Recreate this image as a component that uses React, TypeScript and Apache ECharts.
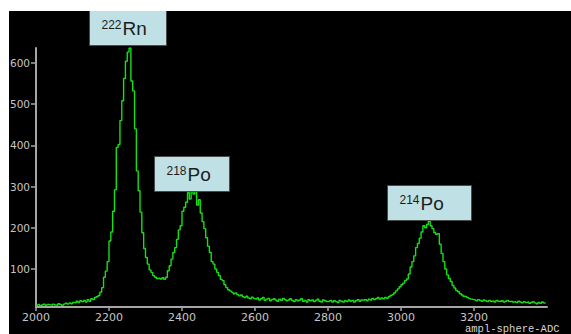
import React, { useEffect, useRef } from "react";
import * as echarts from "echarts";

// Histogram: bins of 5 ADC units starting at 2000
const BIN_START = 2000;
const BIN_WIDTH = 5;

const counts2000 = [12, 14, 11, 13, 15, 12, 14, 13, 12, 15, 13, 12, 16, 14, 12, 15, 17, 15, 18, 16];
const counts2100 = [19, 18, 22, 19, 23, 21, 24, 20, 26, 22, 28, 26, 31, 33, 36, 44, 55, 80, 95, 118];
const counts2200 = [168, 190, 240, 292, 395, 402, 460, 508, 562, 604, 626, 636, 556, 532, 440, 338, 290, 238, 188, 150];
const counts2300 = [128, 112, 98, 92, 84, 80, 77, 78, 76, 79, 75, 80, 96, 108, 124, 140, 152, 172, 195, 205];
const counts2400 = [240, 250, 262, 285, 270, 290, 282, 295, 255, 268, 236, 215, 198, 176, 155, 140, 118, 112, 100, 92];
const counts2500 = [84, 75, 72, 62, 55, 50, 47, 44, 40, 42, 38, 35, 37, 33, 31, 34, 30, 28, 32, 29];
const counts2600 = [27, 30, 25, 28, 31, 24, 27, 29, 23, 26, 28, 25, 22, 27, 24, 29, 26, 23, 25, 28];
const counts2700 = [24, 21, 26, 23, 25, 28, 22, 24, 20, 26, 23, 25, 21, 24, 27, 22, 20, 25, 23, 21];
const counts2800 = [22, 24, 20, 23, 21, 19, 24, 22, 20, 23, 21, 25, 22, 24, 20, 23, 26, 22, 25, 24];
const counts2900 = [26, 23, 27, 25, 29, 26, 28, 31, 27, 30, 28, 31, 29, 33, 36, 38, 42, 47, 52, 57];
const counts3000 = [62, 66, 72, 76, 88, 105, 118, 132, 152, 162, 175, 190, 205, 200, 208, 216, 205, 198, 188, 184];
const counts3100 = [186, 160, 138, 118, 100, 86, 77, 70, 60, 54, 48, 45, 40, 37, 34, 33, 31, 29, 27, 26];
const counts3200 = [25, 23, 26, 24, 22, 25, 23, 21, 24, 22, 23, 20, 24, 22, 21, 23, 20, 22, 24, 21];
const counts3300 = [22, 20, 21, 19, 22, 20, 18, 21, 19, 20, 17, 19, 21, 18, 16, 19, 17, 20, 18, 16];

const xTicks = [2000, 2200, 2400, 2600, 2800, 3000, 3200];
const yTicks = [100, 200, 300, 400, 500, 600];

// Peak annotations (anchored in data space: box left edge ADC, box bottom count)
const isotopes = ["222", "218", "214"];
const elements = ["Rn", "Po", "Po"];
const labelLeftADC = [2145, 2323, 2962];
const labelBottomCount = [643, 289, 218];
const boxWidths = [77, 75, 84];

const axisTitle = "ampl-sphere-ADC";

export default function App() {
  const ref = useRef<HTMLDivElement>(null);

  useEffect(() => {
    const el = ref.current;
    if (!el) return;
    const chart = echarts.init(el, null, { renderer: "svg" });
    const counts = [
      ...counts2000, ...counts2100, ...counts2200, ...counts2300, ...counts2400,
      ...counts2500, ...counts2600, ...counts2700, ...counts2800, ...counts2900,
      ...counts3000, ...counts3100, ...counts3200, ...counts3300,
    ];
    const data = counts.map((c, i) => [BIN_START + i * BIN_WIDTH, c]);
    const axisColor = "#a6a6a6";
    const labelColor = "#c6c6c6";

    chart.setOption({
      animation: false,
      backgroundColor: "#000000",
      grid: {
        left: 27,
        right: 24,
        top: 37,
        bottom: 27,
        containLabel: false,
        outerBoundsMode: "none",
      },
      xAxis: {
        type: "value",
        min: 2000,
        max: 3400,
        interval: 200,
        axisLine: { show: true, lineStyle: { color: axisColor, width: 2 } },
        axisTick: {
          show: true,
          length: 4,
          customValues: xTicks,
          lineStyle: { color: axisColor, width: 1.5 },
        },
        axisLabel: {
          customValues: xTicks,
          formatter: (v: number) => String(v),
          color: labelColor,
          fontSize: 11,
          lineHeight: 11,
          fontFamily: "DejaVu Sans",
          margin: 5,
        },
        splitLine: { show: false },
      },
      yAxis: {
        type: "value",
        min: 8,
        max: 636,
        axisLine: { show: true, lineStyle: { color: axisColor, width: 2 } },
        axisTick: {
          show: true,
          length: 5,
          customValues: yTicks,
          lineStyle: { color: axisColor, width: 1.5 },
        },
        axisLabel: {
          customValues: yTicks,
          formatter: (v: number) => String(v),
          color: labelColor,
          fontSize: 10.5,
          fontFamily: "DejaVu Sans",
          margin: 6,
        },
        splitLine: { show: false },
      },
      series: [
        {
          type: "line",
          data,
          step: "end",
          symbol: "none",
          showSymbol: false,
          silent: true,
          lineStyle: { color: "#14e014", width: 1.4 },
        },
      ],
    });

    const graphics: any[] = [];
    isotopes.forEach((iso, i) => {
      const p = chart.convertToPixel({ gridIndex: 0 }, [labelLeftADC[i], labelBottomCount[i]]) as number[];
      const left = Math.round(p[0]) + 0.5;
      const bottom = Math.round(p[1]) + 0.5;
      const h = 35;
      const baseline = bottom - 10;
      graphics.push({
        type: "rect",
        z: 100,
        shape: { x: left, y: bottom - h, width: boxWidths[i], height: h },
        style: { fill: "#bfe1e5", stroke: "#4a4a4a", lineWidth: 1 },
      });
      graphics.push({
        type: "text",
        z: 101,
        x: left + 12,
        y: baseline - 6.5 - 4.2,
        style: {
          text: iso,
          fontSize: 12,
          fontFamily: "'Liberation Sans', Arial, sans-serif",
          fill: "#1c1c1c",
          align: "left",
          verticalAlign: "middle",
        },
      });
      graphics.push({
        type: "text",
        z: 101,
        x: left + 33,
        y: baseline - 6.6,
        style: {
          text: elements[i],
          fontSize: 19,
          fontFamily: "'Liberation Sans', Arial, sans-serif",
          fill: "#1c1c1c",
          align: "left",
          verticalAlign: "middle",
        },
      });
    });
    graphics.push({
      type: "text",
      z: 101,
      x: 456,
      y: 317.5,
      style: {
        text: axisTitle,
        fontSize: 10.5,
        lineHeight: 10,
        fontFamily: "'Courier New', 'Liberation Mono', monospace",
        fill: "#d6d6d6",
        align: "left",
        verticalAlign: "middle",
      },
    });
    chart.setOption({ graphic: graphics });

    return () => chart.dispose();
  }, []);

  return (
    <div
      ref={ref}
      style={{ position: "fixed", left: 9, top: 11, width: 562, height: 323 }}
    />
  );
}
